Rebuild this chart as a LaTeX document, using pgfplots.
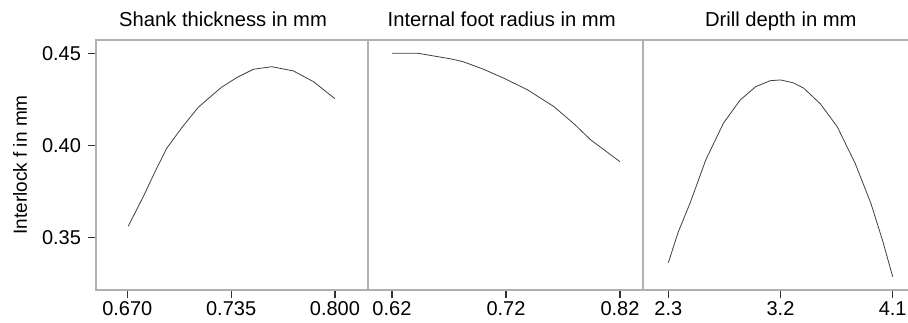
\documentclass[border=0pt]{standalone}
\usepackage{pgfplots}
\pgfplotsset{compat=1.18}
\usepackage{fontspec}
\setmainfont{Liberation Sans}
\definecolor{frame}{HTML}{B0B0B0}
\definecolor{curve}{HTML}{404040}
\pgfplotsset{
  panel/.style={
    scale only axis,
    height=125pt,
    ymin=0.3214, ymax=0.4572,
    axis line style={draw=frame, line width=0.6pt},
    tick align=outside,
    xtick pos=bottom, ytick pos=left,
    major tick length=4pt,
    tick style={color=black!80, line width=0.6pt},
    /pgf/number format/assume math mode=true,
    ticklabel style={font=\fontsize{10}{12}\selectfont},
    xticklabel style={inner sep=1.5pt},
    every axis title/.style={font=\fontsize{10.1}{12}\selectfont, anchor=base, yshift=6.7pt},
    cycle list={{curve, line width=0.55pt, no marks, smooth, tension=0.5}},
  }
}
\begin{document}
\begin{tikzpicture}
\begin{axis}[panel, at={(0,0)}, anchor=south west, width=136pt,
  xmin=0.6504, xmax=0.8207,
  xtick={0.670,0.735,0.800}, xticklabels={0.670,0.735,0.800},
  ytick={0.35,0.40,0.45}, yticklabels={0.35,0.40,0.45},
  title={Shank thickness in mm}, title style={at={(0.467,1)}},
  ylabel={Interlock f in mm},
  every axis y label/.style={at={(axis description cs:0,0.5)}, xshift=-38pt, rotate=90, anchor=center, font=\fontsize{9.5}{11}\selectfont},
]
\addplot coordinates {
(0.6706,0.3561) (0.6800,0.3721) (0.6870,0.3850) (0.6947,0.3984) (0.7045,0.4100)
(0.7145,0.4207) (0.7289,0.4315) (0.7390,0.4370) (0.7489,0.4413) (0.7604,0.4427)
(0.7740,0.4404) (0.7865,0.4346) (0.8000,0.4253)};
\end{axis}
\begin{axis}[panel, at={(136pt,0)}, anchor=south west, width=137.5pt,
  xmin=0.599, xmax=0.8402,
  xtick={0.62,0.72,0.82}, xticklabels={0.62,0.72,0.82},
  ytick=\empty,
  title={Internal foot radius in mm}, title style={at={(0.486,1)}},
]
\addplot coordinates {
(0.6200,0.4500) (0.6428,0.4500) (0.6719,0.4469) (0.6820,0.4455) (0.7000,0.4414)
(0.7183,0.4364) (0.7387,0.4302) (0.7621,0.4210) (0.7800,0.4115) (0.7944,0.4029)
(0.8200,0.3911)};
\end{axis}
\begin{axis}[panel, at={(273.5pt,0)}, anchor=south west, width=137.5pt,
  xmin=2.097, xmax=4.303,
  xtick={2.3,3.2,4.1}, xticklabels={2.3,3.2,4.1},
  ytick=\empty,
  title={Drill depth in mm}, title style={at={(0.501,1)}},
]
\addplot coordinates {
(2.300,0.3362) (2.380,0.3530) (2.474,0.3685) (2.600,0.3920) (2.742,0.4120)
(2.876,0.4246) (3.000,0.4318) (3.117,0.4351) (3.200,0.4355) (3.300,0.4340)
(3.387,0.4310) (3.520,0.4225) (3.655,0.4101) (3.800,0.3900) (3.925,0.3685)
(4.020,0.3480) (4.100,0.3286)};
\end{axis}
\pgfresetboundingbox
\useasboundingbox (-48pt,-16pt) rectangle (406pt,145pt);
\end{tikzpicture}
\end{document}
